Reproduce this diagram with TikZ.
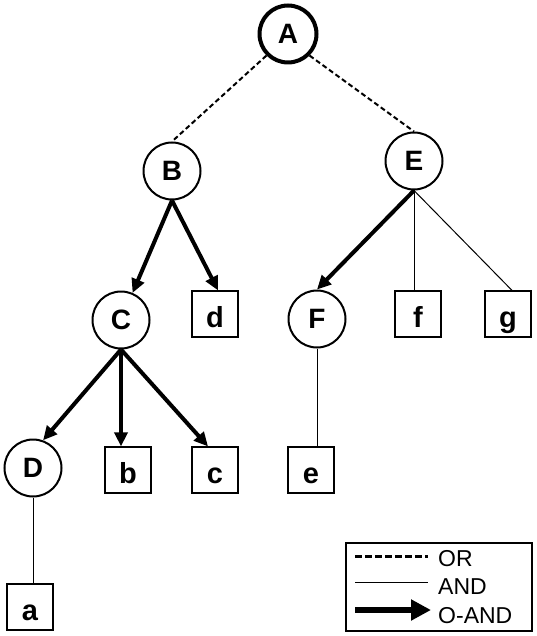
\documentclass[tikz,border=0pt]{standalone}
\usepackage{fontspec}
\setmainfont{Liberation Sans}
\usetikzlibrary{arrows.meta}

\begin{document}
\begin{tikzpicture}[x=1pt,y=-1pt,
goal/.style={circle,draw,line width=2pt,inner sep=0pt,minimum size=57pt,
	font=\fontsize{28}{30}\selectfont\bfseries},
prim/.style={rectangle,draw,line width=1.2pt,inner sep=0pt,minimum size=46pt,
	text height=26pt,text depth=0pt,font=\fontsize{29}{30}\selectfont\bfseries},
oredge/.style={line width=2pt,dash pattern=on 5pt off 3pt},
andedge/.style={line width=1pt},
oandedge/.style={line width=4pt,-{Triangle[length=14pt,width=13pt]}},
keytext/.style={anchor=west,inner sep=0pt,font=\fontsize{23}{25}\selectfont}]

\useasboundingbox (0,0) rectangle (537,636);

% Nodes
\node[goal,line width=4pt] (A) at (288,34) {A};
\node[goal] (B) at (172,171) {B};
\node[goal] (E) at (414,161) {E};
\node[goal] (C) at (121,320) {C};
\node[prim] (d) at (215,314) {d};
\node[goal] (F) at (317,319) {F};
\node[prim] (f) at (418,314) {f};
\node[prim] (g) at (508,314) {g};
\node[goal] (D) at (33,468) {D};
\node[prim] (b) at (128,470) {b};
\node[prim] (c) at (215,470) {c};
\node[prim] (e) at (311,470) {e};
\node[prim] (a) at (30,607) {a};

% Edges
\draw[oredge] (A.225) -- (B.north); % OR
\draw[oredge] (A.315) -- (E.north);
\draw[oandedge] (B.south) -- (C); % O-AND
\draw[oandedge] (B.south) -- ([xshift=3pt]d.north);
\draw[oandedge] (C.south) -- (D.70);
\draw[oandedge] (C.south) -- (C.south |- b.north);
\draw[oandedge] (C.south) -- ([xshift=-7pt]c.north);
\draw[oandedge] (E.south) -- (F.north);
\draw[andedge] (E.south) -- (E.south |- f.north); % AND
\draw[andedge] (E.south) -- ([xshift=4pt]g.north);
\draw[andedge] (F.south) -- (F.south |- e.north);
\draw[andedge] (D.south) -- (D.south |- a.north);

% Legend
\node[draw,line width=1.2pt,minimum width=186pt,minimum height=88pt,inner sep=0pt] (key) at (439,587) {};
\coordinate (or1) at (355,556);
\coordinate (or2) at (428,556);
\coordinate (and1) at (355,582);
\coordinate (and2) at (428,582);
\coordinate (oand1) at (355,610);
\coordinate (oand2) at (431,610);
\draw[line width=3pt,dash pattern=on 7pt off 3pt] (or1) -- (or2);
\draw[andedge] (and1) -- (and2);
\draw[line width=6pt,-{Triangle[length=20pt,width=20pt]}] (oand1) -- (oand2);
\node[keytext] (ortext) at (438,559) {OR};
\node[keytext] (andtext) at (438,587) {AND};
\node[keytext] (oandtext) at (438,616) {O-AND};

\end{tikzpicture}
\end{document}
